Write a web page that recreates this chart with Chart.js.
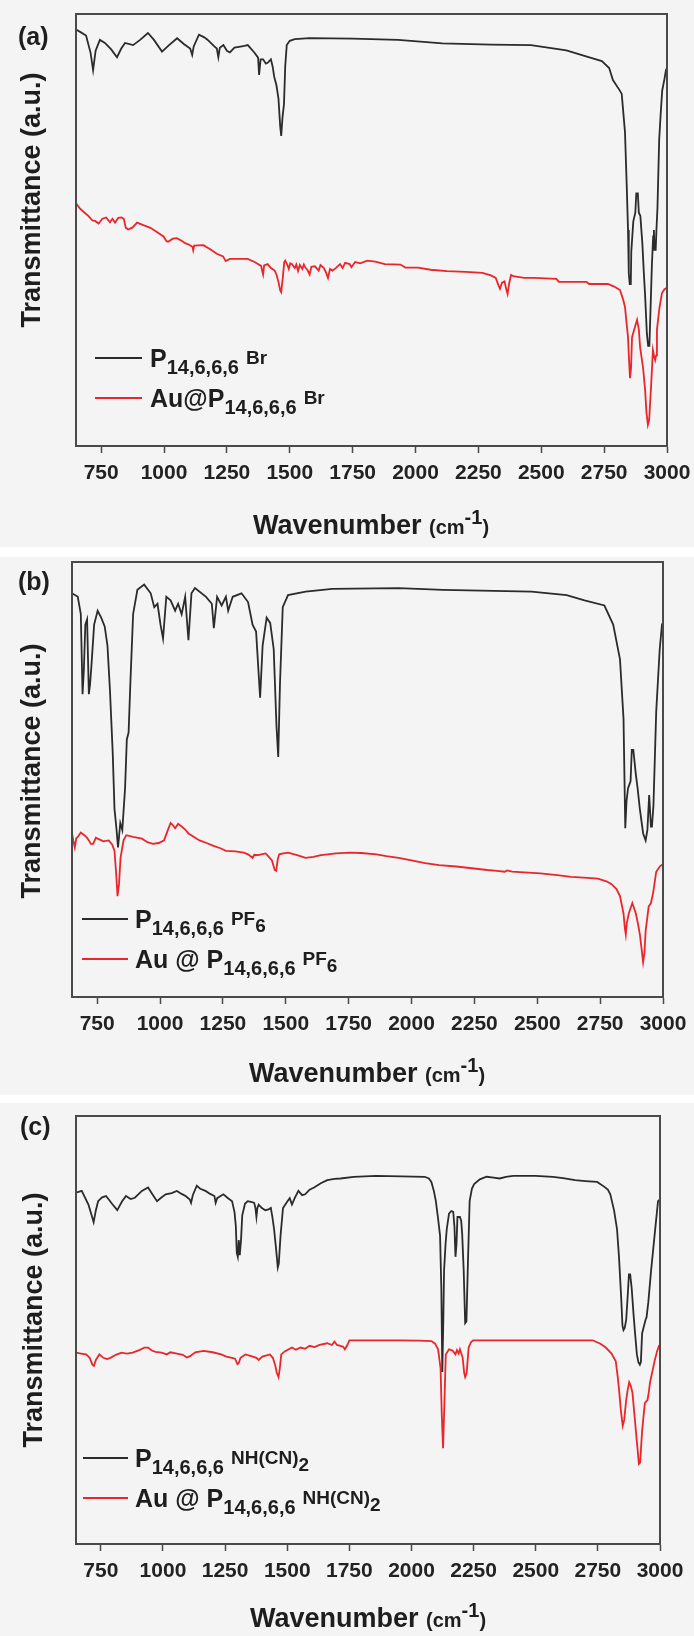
<!DOCTYPE html>
<html>
<head>
<meta charset="utf-8">
<script src="https://cdn.jsdelivr.net/npm/chart.js@4.4.1/dist/chart.umd.min.js"></script>
<style>
body { margin: 0; background: #fff; }
#page { position: relative; width: 694px; height: 1636px; background: #fff; overflow: hidden;
        font-family: "Liberation Sans", Arial, sans-serif; color: #1e1e1e; }
.panel { position: absolute; left: 0; width: 694px; background: #f4f4f4; }
.panel canvas { position: absolute; left: 0; top: 0; }
.tag { position: absolute; font-weight: bold; font-size: 25px; line-height: 28px; }
.ytitle { position: absolute; font-weight: bold; font-size: 27px; white-space: nowrap;
          transform: translate(-50%, -50%) rotate(-90deg); }
.xtitle { position: absolute; font-weight: bold; font-size: 27px; white-space: nowrap;
          transform: translate(-50%, -50%); }
.xtitle .u { font-size: 20px; }
.xtitle .e { font-size: 20px; position: relative; top: -10px; }
.leg { position: absolute; white-space: nowrap; font-weight: bold; font-size: 25px; line-height: 26px; height: 26px; }
.leg .ln { position: absolute; left: 0; top: 12px; height: 2px; }
.leg .t { position: absolute; top: 0; }
.sb { font-size: 20px; position: relative; top: 7px; }
.sp { font-size: 19px; position: relative; top: -3px; }
.sp .sb { font-size: 19px; top: 7px; }
</style>
</head>
<body>
<div id="page">
  <div class="panel" style="top:0;height:547px">
    <canvas id="chartA" width="694" height="547"></canvas>
    <div class="tag" style="left:18px;top:22px">(a)</div>
    <div class="ytitle" style="left:31px;top:200px">Transmittance (a.u.)</div>
    <div class="xtitle" style="left:371px;top:525px">Wavenumber <span class="u">(cm<span class="e">-1</span>)</span></div>
    <div class="leg" style="left:95px;top:345px"><i class="ln" style="width:47px;background:#2b2b2b"></i><span class="t" style="left:55px">P<span class="sb">14,6,6,6</span> <span class="sp">Br</span></span></div>
    <div class="leg" style="left:95px;top:385px"><i class="ln" style="width:47px;background:#e8262b"></i><span class="t" style="left:55px">Au@P<span class="sb">14,6,6,6</span> <span class="sp">Br</span></span></div>
  </div>
  <div class="panel" style="top:557px;height:538px">
    <canvas id="chartB" width="694" height="538"></canvas>
    <div class="tag" style="left:18px;top:10px">(b)</div>
    <div class="ytitle" style="left:31px;top:214px">Transmittance (a.u.)</div>
    <div class="xtitle" style="left:367px;top:516px">Wavenumber <span class="u">(cm<span class="e">-1</span>)</span></div>
    <div class="leg" style="left:82px;top:349px"><i class="ln" style="width:46px;background:#2b2b2b"></i><span class="t" style="left:53px">P<span class="sb">14,6,6,6</span> <span class="sp">PF<span class="sb">6</span></span></span></div>
    <div class="leg" style="left:82px;top:389px"><i class="ln" style="width:46px;background:#e8262b"></i><span class="t" style="left:53px">Au @ P<span class="sb">14,6,6,6</span> <span class="sp">PF<span class="sb">6</span></span></span></div>
  </div>
  <div class="panel" style="top:1103px;height:533px">
    <canvas id="chartC" width="694" height="533"></canvas>
    <div class="tag" style="left:20px;top:9px">(c)</div>
    <div class="ytitle" style="left:33px;top:217px">Transmittance (a.u.)</div>
    <div class="xtitle" style="left:368px;top:515px">Wavenumber <span class="u">(cm<span class="e">-1</span>)</span></div>
    <div class="leg" style="left:83px;top:342px"><i class="ln" style="width:45px;background:#2b2b2b"></i><span class="t" style="left:52px">P<span class="sb">14,6,6,6</span> <span class="sp">NH(CN)<span class="sb">2</span></span></span></div>
    <div class="leg" style="left:83px;top:382px"><i class="ln" style="width:45px;background:#e8262b"></i><span class="t" style="left:52px">Au @ P<span class="sb">14,6,6,6</span> <span class="sp">NH(CN)<span class="sb">2</span></span></span></div>
  </div>
</div>
<script>
// wavenumber ticks shared by all three panels
var xTicks = [750, 1000, 1250, 1500, 1750, 2000, 2250, 2500, 2750, 3000];

// [wavenumber, transmittance (a.u., 0-100 of the panel height)]
var brPure = [[650,96.4],[668,95.8],[690,95],[708,91],[718,87.0],[728,91.5],[745,94.0],[765,93.3],[790,91.8],[813,90.0],[830,92],[845,93.3],[877,92.8],[905,94],[936,95.6],[960,94],[992,91.3],[1020,92.8],[1052,94.4],[1080,93],[1104,92.0],[1112,90.5],[1118,92.5],[1139,95.2],[1160,94.6],[1174,94.0],[1200,92.5],[1210,92.0],[1216,90.0],[1222,92.2],[1236,92.8],[1250,91.5],[1262,91.1],[1280,92.2],[1298,92.4],[1320,92.6],[1333,92.8],[1359,91.1],[1374,89.9],[1378,85.9],[1384,89.5],[1394,89.5],[1405,88.5],[1412,88.7],[1425,89.5],[1432,87.8],[1438,85.5],[1447,83.5],[1455,80.5],[1462,74],[1466,71.8],[1471,76],[1477,79.1],[1482,88],[1488,92.8],[1500,93.8],[1520,94.2],[1579,94.4],[1750,94.3],[1931,94.0],[2107,93.2],[2300,92.9],[2459,92.8],[2600,91.6],[2688,90.0],[2741,89.1],[2770,87.5],[2785,84.7],[2810,82.5],[2820,81.5],[2828,76],[2833,72.6],[2840,60],[2845,50],[2848,40],[2852,37.5],[2856,37.5],[2858,45],[2866,52],[2874,54],[2878,58.5],[2884,58.5],[2888,54],[2894,53.3],[2902,46.9],[2908,40],[2913,34.8],[2920,26],[2925,23.2],[2930,23.2],[2934,30.8],[2940,42],[2945,48.5],[2948,50],[2950,45.4],[2955,45.4],[2958,50],[2962,55],[2969,71.0],[2975,77],[2981,82.3],[2990,85],[2996,87.1],[3000,87.3]];
var brAu = [[650,56.2],[665,55.0],[682,54.1],[700,53.2],[715,52.2],[726,52.1],[740,51.5],[755,52.6],[770,52.9],[785,51.8],[795,52.6],[805,51.7],[818,52.8],[831,52.9],[840,52.6],[848,50.5],[858,50.1],[875,50.6],[893,51.7],[915,51.2],[946,50.5],[970,49.6],[998,48.5],[1010,47.4],[1016,47.3],[1035,48.0],[1051,48.1],[1070,47.5],[1086,46.9],[1100,46.6],[1113,46.1],[1116,45.3],[1120,46.4],[1157,46.5],[1185,45.5],[1210,44.5],[1235,43.9],[1245,42.8],[1262,43.3],[1300,43.3],[1333,43.3],[1360,42.6],[1386,41.7],[1390,40.6],[1394,39.7],[1398,41.8],[1412,42.1],[1425,41.2],[1440,40.6],[1447,39.7],[1455,38],[1462,36.0],[1466,35.6],[1472,38.8],[1478,42.5],[1482,42.9],[1490,42.0],[1496,41.0],[1502,42.3],[1509,42.1],[1520,41.2],[1526,42.0],[1533,40.5],[1540,41.9],[1550,41.0],[1556,42.0],[1562,41.3],[1570,40.8],[1579,39.7],[1586,41.5],[1600,41.6],[1615,40.6],[1622,41.9],[1636,41.2],[1645,40.0],[1652,38.9],[1660,41.0],[1670,40.6],[1685,41.3],[1700,42.1],[1710,41.2],[1720,42.4],[1738,42.1],[1745,41.4],[1760,42.6],[1780,42.3],[1808,42.9],[1840,42.7],[1878,42.1],[1940,42.0],[1960,41.3],[2010,41.3],[2060,40.8],[2125,40.5],[2200,40.3],[2266,40.1],[2300,39.5],[2319,38.9],[2330,37.2],[2336,36.4],[2344,37.8],[2354,38.1],[2360,36.5],[2366,35.2],[2372,37.5],[2380,39.6],[2389,39.3],[2400,39.2],[2433,38.9],[2470,38.9],[2560,38.7],[2570,38.0],[2680,38.0],[2690,37.5],[2765,37.5],[2790,36.9],[2813,36.1],[2825,34],[2833,32.2],[2840,28],[2845,25.2],[2849,20],[2853,15.7],[2857,18],[2861,25.2],[2870,27],[2881,29.2],[2888,27],[2893,22.9],[2905,18],[2913,13],[2918,8],[2924,4.9],[2929,6],[2936,13],[2944,22.2],[2948,21],[2953,19.9],[2957,21],[2960,26.9],[2970,32],[2980,35.4],[2990,36.3],[3000,36.6]];

var pf6Pure = [[650,92.8],[673,92.0],[685,88.0],[692,69.6],[697,75],[703,85.6],[710,86.8],[717,69.6],[722,72],[727,76.0],[738,85.6],[752,88.8],[766,87.2],[780,85.2],[791,80.8],[801,70.4],[812,56.0],[819,43.2],[826,39.2],[833,34.4],[842,40.0],[850,38.4],[861,48.0],[868,59.2],[875,60.8],[882,72.0],[893,88.0],[910,93.6],[937,94.8],[963,92.8],[977,89.6],[990,90.4],[1002,85.6],[1012,82.4],[1025,92.0],[1042,91.2],[1060,88.8],[1072,90.4],[1086,88.0],[1100,92.0],[1113,82.0],[1125,92.8],[1139,94.0],[1183,92.0],[1206,90.4],[1214,84.8],[1227,92.0],[1245,90.0],[1262,92.0],[1271,88.8],[1289,92.0],[1324,92.8],[1350,90.8],[1368,85.6],[1382,84.0],[1398,68.8],[1408,80.8],[1424,87.2],[1438,86.0],[1452,80.0],[1463,62.4],[1470,55.2],[1477,72.0],[1488,89.6],[1509,92.4],[1579,93.2],[1685,93.8],[1949,94.0],[2125,93.6],[2477,93.2],[2617,92.4],[2688,91.2],[2767,90.0],[2802,85.6],[2829,77.6],[2843,64.0],[2850,38.8],[2855,45],[2861,48.0],[2871,49.6],[2876,56.8],[2882,56.8],[2892,51.2],[2899,48.0],[2908,43.2],[2921,37.6],[2931,36.0],[2938,38.4],[2945,46.4],[2952,39.2],[2956,39.2],[2962,44.0],[2973,65.6],[2987,80.0],[2996,85.6],[3000,86]];
var pf6Au = [[650,37.6],[655,36],[661,34.4],[667,36.5],[673,36.8],[685,37.8],[699,37.2],[710,36.6],[717,36.0],[725,35.2],[734,35.2],[745,36.6],[752,36.4],[775,35.8],[796,36.0],[810,35.0],[819,33.6],[826,28],[831,23.2],[837,26],[843,32.0],[855,36.0],[866,37.2],[893,36.8],[928,36.4],[950,35.6],[972,35.2],[995,35.4],[1016,36.0],[1030,38.2],[1042,40.0],[1050,39.6],[1060,38.8],[1072,39.8],[1086,39.2],[1100,38.5],[1113,37.6],[1135,36.8],[1157,36.0],[1185,35.4],[1210,34.8],[1240,34.2],[1262,33.6],[1300,33.5],[1333,33.2],[1350,32.8],[1368,32.0],[1375,32.7],[1390,32.6],[1403,32.8],[1420,33.0],[1430,32.4],[1445,31.4],[1456,29.2],[1462,29.0],[1468,31.6],[1474,32.8],[1490,33.0],[1509,33.2],[1545,32.6],[1579,32.0],[1610,32.2],[1640,32.6],[1667,32.8],[1700,33.0],[1755,33.2],[1800,33.1],[1861,32.8],[1900,32.4],[1949,32.0],[2000,31.4],[2054,30.8],[2110,30.3],[2178,30.0],[2240,29.6],[2301,29.2],[2340,29.0],[2371,28.8],[2380,29.1],[2400,28.8],[2512,28.4],[2580,28.0],[2635,27.6],[2700,27.4],[2741,27.2],[2775,26.6],[2794,26.0],[2815,24.8],[2829,23.2],[2843,19.2],[2848,16],[2852,14.4],[2856,17],[2864,19.2],[2878,21.6],[2892,19.2],[2900,17],[2908,14.4],[2915,11],[2921,8.0],[2926,10],[2931,15.2],[2943,20.8],[2952,21.6],[2961,24.0],[2973,28.8],[2987,30.0],[2996,30.4],[3000,30.5]];

var dcaPure = [[650,82.1],[673,82.5],[700,79.3],[712,77],[721,75.2],[730,78],[739,80.1],[755,81.0],[771,81.3],[795,79.5],[816,78.0],[835,80.0],[851,81.3],[870,80.6],[887,80.9],[915,82.5],[940,83.3],[960,81.5],[976,80.1],[995,81.0],[1011,81.7],[1035,82.0],[1056,82.5],[1075,81.8],[1091,81.3],[1108,80.5],[1113,79.7],[1120,81.5],[1136,83.7],[1150,83.0],[1171,82.5],[1190,81.8],[1207,81.3],[1212,79.7],[1218,80.8],[1243,81.7],[1262,80.8],[1278,80.1],[1288,77.5],[1293,74.4],[1297,68],[1301,67.1],[1305,71],[1309,67.5],[1314,71],[1319,76.8],[1330,79.5],[1341,80.1],[1358,79.9],[1367,79.7],[1372,78.5],[1376,76.4],[1380,78.5],[1385,79.3],[1398,78.5],[1412,78.0],[1425,78.2],[1434,78.5],[1440,76.5],[1447,73.6],[1455,69],[1462,64.6],[1466,65.5],[1473,72.0],[1483,78.5],[1501,80.1],[1510,80.8],[1519,79.3],[1530,80.8],[1545,82.5],[1560,81.5],[1572,81.7],[1590,82.8],[1608,83.3],[1635,84.3],[1661,85.0],[1690,85.3],[1714,85.4],[1768,85.8],[1857,86.0],[1960,85.9],[2053,85.8],[2070,85.4],[2080,84.6],[2090,82.5],[2098,80.1],[2107,76.0],[2115,72.0],[2120,60],[2124,40.2],[2128,52],[2131,63.8],[2137,70],[2142,73.6],[2151,77.2],[2160,77.8],[2168,77.6],[2173,74],[2177,67.1],[2181,70],[2185,76.4],[2195,76.4],[2200,75.5],[2204,72.4],[2210,64],[2216,51.6],[2221,52],[2227,65.4],[2234,80.1],[2243,83],[2252,84.1],[2275,85.2],[2302,85.8],[2330,85.6],[2355,85.4],[2380,85.8],[2409,86.0],[2500,86.0],[2569,85.8],[2610,85.5],[2658,85.0],[2700,84.8],[2747,84.6],[2775,83.5],[2790,82.8],[2800,81.7],[2815,78],[2827,73.6],[2835,67.1],[2844,57.3],[2849,51],[2853,50.0],[2858,50.5],[2864,52.4],[2870,58],[2875,63.0],[2880,63.0],[2886,59.8],[2894,53.3],[2900,49],[2907,44.3],[2913,42.5],[2919,41.9],[2923,42.5],[2928,49.2],[2935,50.8],[2942,52.4],[2946,53],[2953,56.5],[2964,63.8],[2978,72.0],[2992,80.1],[3000,80.5]];
var dcaAu = [[650,44.7],[670,44.5],[691,44.3],[705,43.5],[716,41.9],[722,41.6],[730,43.0],[744,44.3],[760,43.5],[775,43.2],[789,43.5],[810,44.2],[833,44.7],[855,44.5],[878,44.7],[905,45.3],[925,45.9],[940,45.9],[955,45.2],[970,44.9],[994,44.7],[1015,44.3],[1030,44.8],[1056,44.5],[1080,44.2],[1096,43.6],[1109,43.9],[1130,44.8],[1163,45.1],[1200,44.8],[1234,44.3],[1255,43.8],[1278,43.5],[1290,43.3],[1300,42.0],[1305,42.3],[1312,43.5],[1332,44.3],[1355,43.9],[1376,43.5],[1385,43.0],[1400,43.8],[1430,44.3],[1442,43.5],[1451,41.9],[1458,40],[1465,39.0],[1470,41],[1476,44.3],[1490,45.0],[1519,45.9],[1535,45.4],[1554,45.9],[1572,45.6],[1590,46.3],[1610,46.0],[1630,46.5],[1661,46.9],[1680,46.5],[1690,47.3],[1700,46.5],[1714,46.3],[1725,46.1],[1732,45.5],[1742,46.5],[1750,47.6],[1850,47.6],[1946,47.6],[2030,47.5],[2080,47.4],[2095,46.8],[2107,45.5],[2117,41.1],[2122,30],[2127,22.4],[2132,32],[2138,44.3],[2151,45.5],[2165,45.2],[2177,44.3],[2183,45.3],[2190,44.5],[2195,45.5],[2206,43.5],[2212,40],[2216,39.0],[2222,40],[2230,45.9],[2240,47.2],[2248,47.6],[2450,47.6],[2600,47.6],[2729,47.6],[2760,46.8],[2782,45.9],[2805,44.5],[2822,42.7],[2830,39],[2835,36.2],[2843,31],[2850,27.6],[2856,29],[2864,33.7],[2870,36],[2876,37.8],[2882,37],[2889,35.4],[2896,31],[2903,26.4],[2910,22],[2915,18.7],[2920,19],[2928,26.4],[2934,30],[2939,32.9],[2950,33.7],[2955,35.5],[2960,37.8],[2970,40.5],[2978,42.7],[2988,45],[2996,46.3],[3000,46.5]];

var black = '#2b2b2b';
var red = '#e8262b';

function toXY(rows) {
  return rows.map(function (r) { return { x: r[0], y: r[1] }; });
}

var frame = {
  id: 'frame',
  afterDraw: function (chart) {
    var a = chart.chartArea;
    var ctx = chart.ctx;
    ctx.save();
    ctx.strokeStyle = '#4a4a4a';
    ctx.lineWidth = 2;
    ctx.strokeRect(a.left, a.top, a.right - a.left, a.bottom - a.top);
    ctx.restore();
  }
};

Chart.defaults.font.family = '"Liberation Sans", Arial, sans-serif';

function makePanel(id, pure, au, pad) {
  var ctx = document.getElementById(id).getContext('2d');
  return new Chart(ctx, {
    type: 'line',
    data: {
      datasets: [
        { data: toXY(pure), borderColor: black, borderWidth: 1.8, pointRadius: 0, tension: 0, fill: false },
        { data: toXY(au), borderColor: red, borderWidth: 1.8, pointRadius: 0, tension: 0, fill: false }
      ]
    },
    options: {
      responsive: false,
      animation: false,
      events: [],
      layout: { padding: pad },
      plugins: { legend: { display: false }, tooltip: { enabled: false } },
      scales: {
        x: {
          type: 'linear',
          min: 650,
          max: 3000,
          afterBuildTicks: function (scale) {
            scale.ticks = xTicks.map(function (v) { return { value: v }; });
          },
          ticks: {
            autoSkip: false,
            maxRotation: 0,
            padding: 2,
            color: '#222',
            // tall line height pushes the labels down without widening the right gutter
            font: { size: 21, weight: 'bold', lineHeight: 1.714 },
            callback: function (v) { return String(v); }
          },
          grid: { drawOnChartArea: false, drawTicks: true, tickLength: 7, color: '#4a4a4a', tickWidth: 1.5 },
          border: { display: true, color: '#4a4a4a', width: 2 }
        },
        y: {
          display: false,
          min: 0,
          max: 100
        }
      }
    },
    plugins: [frame]
  });
}

makePanel('chartA', brPure, brAu, { left: 76, right: 27, top: 14, bottom: 54 });
makePanel('chartB', pf6Pure, pf6Au, { left: 72, right: 31, top: 5, bottom: 51 });
makePanel('chartC', dcaPure, dcaAu, { left: 76, right: 34, top: 13, bottom: 45 });
</script>
</body>
</html>
